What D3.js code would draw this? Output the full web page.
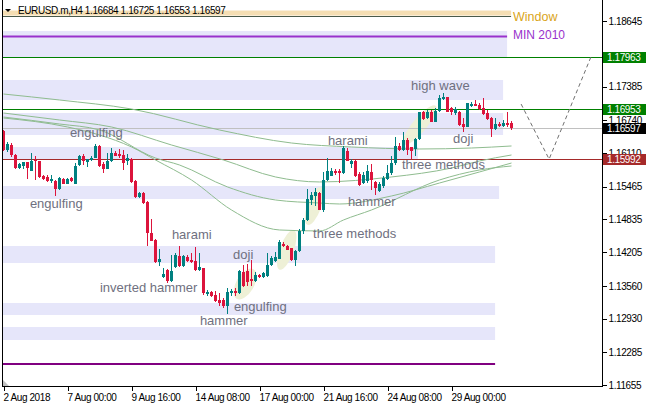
<!DOCTYPE html>
<html><head><meta charset="utf-8">
<script src="https://cdn.jsdelivr.net/npm/d3@7"></script>
<style>body{margin:0;background:#fff}svg{display:block}</style>
</head><body><svg id="c" width="646" height="408"></svg>
<script>
// ---------- DATA ----------
const symbolTitle = "EURUSD.m,H4";
const headerOHLC = [1.16684, 1.16725, 1.16553, 1.16597];

const opens = [1.16533,1.16168,1.16264,1.16072,1.15822,1.15870,1.15928,1.15774,1.15976,1.15947,1.15678,1.15640,1.15582,1.15582,1.15419,1.15611,1.15515,1.15621,1.15515,1.15880,1.16053,1.15938,1.15976,1.16005,1.16235,1.15890,1.15803,1.15947,1.16101,1.16082,1.16072,1.15947,1.15995,1.15573,1.15256,1.15342,1.15170,1.14574,1.14430,1.14008,1.13720,1.13864,1.13643,1.13912,1.14123,1.13931,1.14104,1.14046,1.14027,1.13864,1.13893,1.13397,1.13432,1.13384,1.13288,1.13278,1.13163,1.13413,1.13451,1.13413,1.13816,1.13835,1.13682,1.13643,1.13768,1.13720,1.13739,1.13960,1.14027,1.14066,1.14363,1.14325,1.14277,1.14056,1.14219,1.14603,1.14824,1.15208,1.15285,1.15333,1.15016,1.15592,1.15669,1.15765,1.15755,1.15717,1.16158,1.15890,1.15957,1.15698,1.15525,1.15563,1.15736,1.15544,1.15371,1.15467,1.15611,1.15717,1.15909,1.16235,1.16168,1.16360,1.16216,1.16178,1.16379,1.16888,1.16773,1.16907,1.16715,1.16917,1.17147,1.17176,1.16965,1.16869,1.16907,1.16658,1.16619,1.17013,1.17051,1.17032,1.16965,1.16869,1.16773,1.16571,1.16658,1.16638,1.16677,1.16684];
const highs = [1.16552,1.16322,1.16302,1.16091,1.15918,1.15938,1.15938,1.16110,1.16043,1.15957,1.15688,1.15688,1.15688,1.15592,1.15640,1.15621,1.15621,1.15650,1.15918,1.16072,1.16082,1.15995,1.16062,1.16283,1.16264,1.15928,1.16101,1.16197,1.16149,1.16187,1.16168,1.16082,1.16005,1.15592,1.15352,1.15362,1.15179,1.14834,1.14450,1.14267,1.13893,1.13883,1.14152,1.14181,1.14325,1.14152,1.14152,1.14181,1.14296,1.14181,1.13902,1.13480,1.13451,1.13451,1.13413,1.13317,1.13509,1.13490,1.13509,1.13864,1.13960,1.13970,1.14056,1.13816,1.13778,1.13816,1.14181,1.14133,1.14200,1.14440,1.14392,1.14344,1.14286,1.14248,1.14642,1.14853,1.15419,1.15352,1.15429,1.15352,1.15736,1.16005,1.15813,1.15794,1.15794,1.16235,1.16197,1.15995,1.15976,1.15736,1.15736,1.15880,1.15890,1.15563,1.15544,1.15659,1.15880,1.16043,1.16427,1.16293,1.16523,1.16389,1.16226,1.16389,1.16907,1.16917,1.16936,1.16936,1.16965,1.17224,1.17253,1.17195,1.16984,1.16984,1.16917,1.16773,1.17070,1.17080,1.17128,1.17061,1.17157,1.16936,1.16792,1.16773,1.16696,1.16744,1.16888,1.16725];
const lows = [1.16149,1.16130,1.16034,1.15803,1.15794,1.15803,1.15611,1.15765,1.15592,1.15621,1.15592,1.15554,1.15534,1.15294,1.15400,1.15506,1.15506,1.15554,1.15506,1.15851,1.15880,1.15832,1.15957,1.16005,1.15832,1.15726,1.15794,1.15938,1.16053,1.16014,1.15784,1.15880,1.15525,1.15237,1.15237,1.15131,1.14315,1.14411,1.13998,1.13931,1.13710,1.13614,1.13634,1.13893,1.13912,1.13912,1.14008,1.13989,1.13835,1.13845,1.13384,1.13355,1.13336,1.13240,1.13173,1.13125,1.13019,1.13355,1.13355,1.13403,1.13528,1.13547,1.13547,1.13624,1.13710,1.13701,1.13730,1.13931,1.14018,1.14066,1.14296,1.14238,1.14027,1.13931,1.14210,1.14555,1.14795,1.15112,1.15083,1.15006,1.14968,1.15563,1.15659,1.15688,1.15534,1.15698,1.15947,1.15813,1.15640,1.15467,1.15515,1.15534,1.15400,1.15304,1.15352,1.15429,1.15592,1.15688,1.15880,1.16149,1.16149,1.16072,1.15995,1.16043,1.16360,1.16744,1.16763,1.16696,1.16706,1.16907,1.17128,1.16888,1.16840,1.16840,1.16638,1.16523,1.16600,1.17003,1.17013,1.16936,1.16840,1.16744,1.16418,1.16552,1.16600,1.16619,1.16619,1.16553];
const closes = [1.16168,1.16283,1.16072,1.15822,1.15890,1.15928,1.15822,1.15947,1.15957,1.15640,1.15611,1.15582,1.15602,1.15419,1.15621,1.15515,1.15611,1.15563,1.15870,1.16043,1.15947,1.15986,1.16005,1.16235,1.15870,1.15803,1.15947,1.16101,1.16062,1.16043,1.15918,1.16005,1.15544,1.15256,1.15333,1.15150,1.14574,1.14421,1.14008,1.14066,1.13787,1.13643,1.13835,1.14152,1.13931,1.14123,1.14027,1.14008,1.13854,1.13912,1.13413,1.13447,1.13355,1.13259,1.13221,1.13163,1.13432,1.13461,1.13413,1.13835,1.13547,1.13624,1.13643,1.13768,1.13720,1.13797,1.13960,1.14085,1.14104,1.14392,1.14315,1.14248,1.14056,1.14229,1.14603,1.14824,1.15218,1.15304,1.15352,1.15016,1.15592,1.15755,1.15765,1.15717,1.15717,1.16197,1.15957,1.15957,1.15659,1.15496,1.15688,1.15755,1.15592,1.15429,1.15506,1.15621,1.15717,1.15909,1.16235,1.16168,1.16360,1.16168,1.16158,1.16379,1.16888,1.16754,1.16907,1.16715,1.16926,1.17157,1.17176,1.16907,1.16888,1.16955,1.16648,1.16619,1.17061,1.17042,1.17022,1.16946,1.16850,1.16754,1.16562,1.16658,1.16629,1.16677,1.16648,1.16597];

// time axis labels every 16 bars
const timeTickIdx = [0,16,32,48,64,80,96,112];
const timeLabels = ["2 Aug 2018","7 Aug 00:00","9 Aug 16:00","14 Aug 08:00","17 Aug 00:00","21 Aug 16:00","24 Aug 08:00","29 Aug 00:00"];

// price axis tick labels (1.18015 is hidden under the 1.17963 tag in the original)
const priceTicks = [1.18645,1.17385,1.16740,1.16110,1.15465,1.14835,1.14205,1.13560,1.12930,1.12285,1.11655];

// horizontal levels: price, kind
const levelPrices = [1.17963, 1.16953, 1.16597, 1.15992];
const levelKinds  = ["support", "support", "bid", "resist"];

// lavender zones: top price, bottom price, end bar
const zoneTop = [1.18453,1.17512,1.16878,1.16226,1.15477,1.14325,1.13230,1.12768];
const zoneBot = [1.17954,1.17128,1.16456,1.15986,1.15227,1.13998,1.12998,1.12518];
const zoneEnd = [125.9,124.9,124.9,103.6,123.9,122.9,122.9,122.9];

// marker lines
const windowTop = 1.18846, windowBot = 1.18750, windowEnd = 126.9;
const min2010Top = 1.18347, min2010TopEnd = 125.9;
const minLowLine = 1.12059, minLowEnd = 122.9;

// moving averages, read as [bar, price]
const maSlow = [[0,1.17243],[14,1.17128],[32,1.16955],[54,1.16552],[72,1.16302],[87,1.16226],[104,1.16187],[117,1.16206],[127,1.16245]];
const maMid1 = [[0,1.16878],[14,1.16744],[27,1.16610],[42,1.16264],[55,1.15976],[68,1.15650],[79,1.15554],[97,1.15650],[112,1.15822],[119,1.15957],[127,1.16072]];
const maMid2 = [[0,1.16801],[14,1.16667],[24,1.16552],[38,1.16014],[44,1.15880],[56,1.15458],[68,1.15208],[79,1.15150],[84,1.15131],[97,1.15285],[109,1.15534],[119,1.15746],[127,1.15918]];
const maFast = [[0,1.16782],[16,1.16610],[24,1.16456],[32,1.16226],[38,1.15976],[47,1.15592],[57,1.15016],[69,1.14632],[79,1.14613],[85,1.14824],[92,1.15016],[109,1.15592],[119,1.15784],[127,1.15861]];

// pattern highlight ellipses: bar, price
const hlBar   = [60.4, 70.8, 77.7, 104.05];
const hlPrice = [1.13595, 1.14248, 1.15093, 1.16648];

// pattern annotation texts: text, bar, price (baseline)
const noteText  = ["engulfing","engulfing","harami","inverted hammer","doji","engulfing","hammer","three methods","harami","hammer","three methods","high wave","doji"];
const noteBar   = [16.6, 6.6, 42.1, 24.1, 57.4, 57.6, 49.1, 77.4, 81.1, 86.1, 99.6, 101.9, 112.4];
const notePrice = [1.16418,1.15054,1.14459,1.13442,1.14075,1.13077,1.12808,1.14478,1.16264,1.15093,1.15803,1.17320,1.16302];

// projected path (dashed)
const projBar   = [129.4, 136.4, 146.9];
const projPrice = [1.17050, 1.15992, 1.17963];

// ---------- DRAW ----------
const svg = d3.select("#c");
const plotL = 3, plotR = 602, plotB = 386;
const x = d3.scaleLinear().domain([0,127]).range([3.5,511.5]);
const y = d3.scaleLinear().domain([1.11655,1.18645]).range([385,21]);
const bull = "#008080", bear = "#dc143c";
const font = "'Liberation Sans', Arial, sans-serif";

svg.append("rect").attr("width",646).attr("height",408).attr("fill","#fff");
svg.append("defs").append("clipPath").attr("id","pc").append("rect")
  .attr("x",plotL).attr("y",0).attr("width",plotR-plotL).attr("height",plotB);
const g = svg.append("g").attr("clip-path","url(#pc)");

// zones
g.selectAll(".zone").data(zoneTop).join("rect")
  .attr("x",plotL).attr("y",(d)=>Math.round(y(d)))
  .attr("width",(d,i)=>x(zoneEnd[i])-plotL)
  .attr("height",(d,i)=>Math.round(y(zoneBot[i]))-Math.round(y(d)))
  .attr("fill","#e6e6fa");

// window band
g.append("rect").attr("x",plotL).attr("y",y(windowTop)).attr("width",x(windowEnd)-plotL)
  .attr("height",y(windowBot)-y(windowTop)).attr("fill","#f5deb3");
g.append("line").attr("x1",plotL).attr("x2",x(windowEnd)).attr("y1",Math.round(y(windowBot))+0.5).attr("y2",Math.round(y(windowBot))+0.5)
  .attr("stroke","#4a5a4a").attr("stroke-width",1);
// purple lines
g.append("line").attr("x1",plotL).attr("x2",x(min2010TopEnd)).attr("y1",y(min2010Top)).attr("y2",y(min2010Top))
  .attr("stroke","#9932cc").attr("stroke-width",2);
g.append("line").attr("x1",plotL).attr("x2",x(minLowEnd)).attr("y1",y(minLowLine)).attr("y2",y(minLowLine))
  .attr("stroke","#800080").attr("stroke-width",2);

// highlight ellipses
const hlShape = [[17,9,-60],[21,7,-70],[20,7,-70],[25,7,-50]];
g.selectAll(".hl").data(hlBar).join("ellipse")
  .attr("cx",0).attr("cy",0)
  .attr("rx",(d,i)=>hlShape[i][0]).attr("ry",(d,i)=>hlShape[i][1])
  .attr("transform",(d,i)=>`translate(${x(d)},${y(hlPrice[i])}) rotate(${hlShape[i][2]})`)
  .attr("fill","#eef0d6");

// level lines
const levelColor = {support:"#008000", bid:"#c0c0c0", resist:"#a52a2a"};
g.selectAll(".lvl").data(levelPrices).join("line")
  .attr("x1",plotL).attr("x2",plotR)
  .attr("y1",d=>Math.round(y(d))+0.5).attr("y2",d=>Math.round(y(d))+0.5)
  .attr("stroke",(d,i)=>levelColor[levelKinds[i]]).attr("stroke-width",1);

// moving averages
const line = d3.line().x(d=>x(d[0])).y(d=>y(d[1])).curve(d3.curveMonotoneX);
[maSlow, maMid1, maMid2, maFast].forEach(ma=>{
  g.append("path").attr("d",line(ma)).attr("fill","none").attr("stroke","#8fbc8f").attr("stroke-width",1);
});

// candles
const candles = opens.map((o,i)=>({i,o,h:highs[i],l:lows[i],c:closes[i]}));
const cg = g.append("g").attr("shape-rendering","crispEdges");
cg.selectAll(".wick").data(candles).join("rect")
  .attr("x",d=>Math.round(x(d.i)-0.5)).attr("width",1)
  .attr("y",d=>Math.round(y(d.h)))
  .attr("height",d=>Math.max(1,Math.round(y(d.l))-Math.round(y(d.h))))
  .attr("fill",d=>d.c>=d.o?bull:bear);
cg.selectAll(".body").data(candles).join("rect")
  .attr("x",d=>Math.round(x(d.i)-1.5)).attr("width",3)
  .attr("y",d=>Math.round(y(Math.max(d.o,d.c))))
  .attr("height",d=>Math.max(1,Math.round(y(Math.min(d.o,d.c)))-Math.round(y(Math.max(d.o,d.c)))))
  .attr("fill",d=>d.c>=d.o?bull:bear);

// projected dashed path
const proj = projBar.map((b,i)=>[b,projPrice[i]]);
g.append("path").attr("d",d3.line().x(d=>x(d[0])).y(d=>y(d[1]))(proj))
  .attr("fill","none").attr("stroke","#707070").attr("stroke-width",1).attr("stroke-dasharray","4,3");

// annotation texts
g.selectAll(".note").data(noteText).join("text")
  .attr("x",(d,i)=>x(noteBar[i])).attr("y",(d,i)=>y(notePrice[i]))
  .attr("font-family",font).attr("font-size",13).attr("fill","#6f7080")
  .text(d=>d);

// right side object labels
svg.append("text").attr("x",513).attr("y",20.5).attr("font-family",font).attr("font-size",12.5)
  .attr("fill","#daa520").text("Window");
svg.append("text").attr("x",513).attr("y",38.5).attr("font-family",font).attr("font-size",12)
  .attr("fill","#9932cc").text("MIN 2010");

// frame
const fr = svg.append("g").attr("stroke","#000").attr("stroke-width",1).attr("shape-rendering","crispEdges");
fr.append("line").attr("x1",2.5).attr("x2",2.5).attr("y1",0).attr("y2",plotB+1);
fr.append("line").attr("x1",602.5).attr("x2",602.5).attr("y1",0).attr("y2",plotB+1);
fr.append("line").attr("x1",2).attr("x2",603).attr("y1",386.5).attr("y2",386.5);
svg.append("path").attr("d","M3,380L3,386L9,386Z").attr("fill","#c0c0c0");

// price axis
const yAxis = d3.axisRight(y).tickValues(priceTicks).tickSize(4).tickPadding(2)
  .tickFormat(d=>d.toFixed(5));
const ya = svg.append("g").attr("transform","translate(602.5,0)").call(yAxis);
ya.select(".domain").remove();
ya.selectAll("line").attr("stroke","#000").attr("shape-rendering","crispEdges");
ya.selectAll("text").attr("font-family",font).attr("font-size",10).attr("letter-spacing","-0.4").attr("fill","#000");

// time axis
const xAxis = d3.axisBottom(x).tickValues(timeTickIdx).tickSize(4).tickPadding(3)
  .tickFormat((d,i)=>timeLabels[i]);
const xa = svg.append("g").attr("transform","translate(0,386.5)").call(xAxis);
xa.select(".domain").remove();
xa.selectAll("line").attr("stroke","#000").attr("shape-rendering","crispEdges");
xa.selectAll("text").attr("text-anchor","start").attr("dx",-0.5).attr("font-family",font)
  .attr("font-size",10).attr("letter-spacing","-0.4").attr("fill","#000");

// colored price tags
const tagFill = {support:"#008000", bid:"#000000", resist:"#a52a2a"};
const tags = svg.append("g");
levelPrices.forEach((p,i)=>{
  const yy = Math.round(y(p));
  tags.append("rect").attr("x",603).attr("y",yy-5).attr("width",43).attr("height",11).attr("fill",tagFill[levelKinds[i]]);
  tags.append("text").attr("x",607).attr("y",yy+4).attr("font-family",font).attr("font-size",10)
    .attr("letter-spacing","-0.4").attr("fill","#fff").text(p.toFixed(5));
});

// header
svg.append("path").attr("d","M5,9L11,9L8,12Z").attr("fill","#000");
svg.append("text").attr("x",18).attr("y",14).attr("font-family",font).attr("font-size",10)
  .attr("letter-spacing","-0.4").attr("fill","#000")
  .text(symbolTitle + "  " + headerOHLC.map(v=>v.toFixed(5)).join(" "));
</script></body></html>
